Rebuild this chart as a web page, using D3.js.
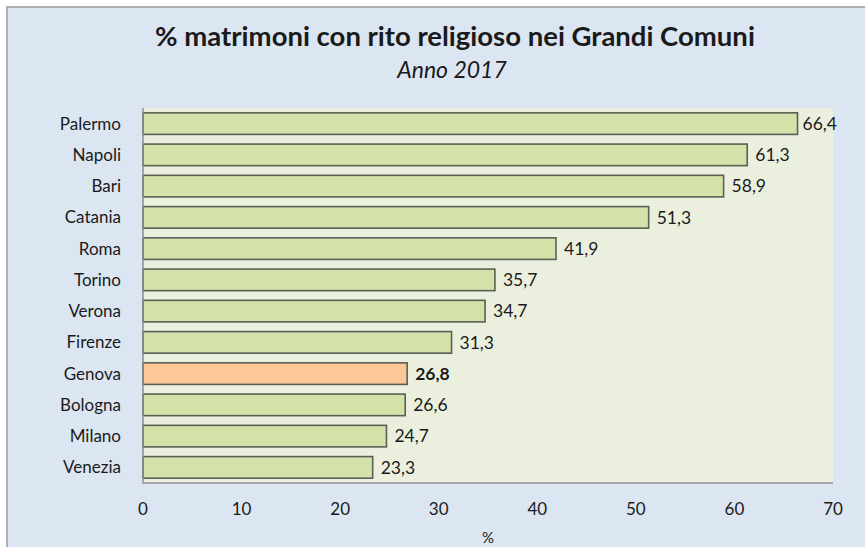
<!DOCTYPE html>
<html><head><meta charset="utf-8">
<script src="https://cdn.jsdelivr.net/npm/d3@7"></script>
<style>body{margin:0;background:#fff}svg{display:block}text{font-family:Lato,"Open Sans",sans-serif;fill:#1a1a1a}</style>
</head><body><svg id="c" width="865" height="547"></svg>
<script>
const categories = ["Palermo","Napoli","Bari","Catania","Roma","Torino","Verona","Firenze","Genova","Bologna","Milano","Venezia"];
const values = [66.4,61.3,58.9,51.3,41.9,35.7,34.7,31.3,26.8,26.6,24.7,23.3];
const highlight = "Genova";
const xTicks = [0,10,20,30,40,50,60,70];
const title = "% matrimoni con rito religioso nei Grandi Comuni";
const subtitle = "Anno 2017";
const xTitle = "%";

const svg = d3.select("#c");
svg.append("rect").attr("x",0).attr("y",0).attr("width",865).attr("height",547).attr("fill","#fff");
svg.append("rect").attr("x",7).attr("y",7).attr("width",870).attr("height",560).attr("fill","#dce6f2").attr("stroke","#9a9a9a").attr("stroke-width",1.5);

const L=143,R=833,T=108,B=483;
svg.append("rect").attr("x",L).attr("y",T).attr("width",R-L).attr("height",B-T).attr("fill","#ebf0de");

const x = d3.scaleLinear().domain([0,70]).range([L,R]);
const y = d3.scaleBand().domain(categories).range([T,B]).paddingInner(0.31).paddingOuter(0.155);

svg.append("text").attr("x",455).attr("y",46).attr("text-anchor","middle").style("font-size","27.5px").style("font-weight","bold").text(title);
svg.append("text").attr("x",452).attr("y",78).attr("text-anchor","middle").style("font-size","23px").style("font-style","italic").text(subtitle);

const data = categories.map((c,i)=>({c,v:values[i]}));
svg.selectAll("rect.bar").data(data).join("rect").attr("class","bar")
  .attr("x",x(0)).attr("y",d=>y(d.c)).attr("width",d=>x(d.v)-x(0)).attr("height",y.bandwidth())
  .attr("fill",d=>d.c===highlight?"#fcc897":"#d3e2a8").attr("stroke","#5a5f57").attr("stroke-width",1.6);

// axes lines
svg.append("line").attr("x1",L).attr("x2",L).attr("y1",T).attr("y2",B+1).attr("stroke","#8c8c8c").attr("stroke-width",1.5);
svg.append("line").attr("x1",L).attr("x2",R).attr("y1",B).attr("y2",B).attr("stroke","#a6a6a6").attr("stroke-width",2);

// category labels
svg.selectAll("text.cat").data(categories).join("text").attr("class","cat")
  .attr("x",121).attr("y",d=>y(d)+y.bandwidth()/2).attr("dy","0.35em").attr("text-anchor","end").style("font-size","17px").text(d=>d);

// value labels
svg.selectAll("text.val").data(data).join("text").attr("class","val")
  .attr("y",d=>y(d.c)+y.bandwidth()/2).attr("dy","0.35em").style("font-size","17.5px")
  .style("font-weight",d=>d.c===highlight?"bold":"normal")
  .text(d=>d3.format(".1f")(d.v).replace(".",","))
  .each(function(d){const w=this.getComputedTextLength();let xx=x(d.v)+8;if(xx+w>837)xx=837-w;d3.select(this).attr("x",xx);});

// x ticks
svg.selectAll("text.tick").data(xTicks).join("text").attr("class","tick")
  .attr("x",d=>x(d)).attr("y",509).attr("dy","0.35em").attr("text-anchor","middle").style("font-size","17px").text(d=>d);
svg.append("text").attr("x",488).attr("y",538).attr("dy","0.35em").attr("text-anchor","middle").style("font-size","15px").text(xTitle);
</script></body></html>
